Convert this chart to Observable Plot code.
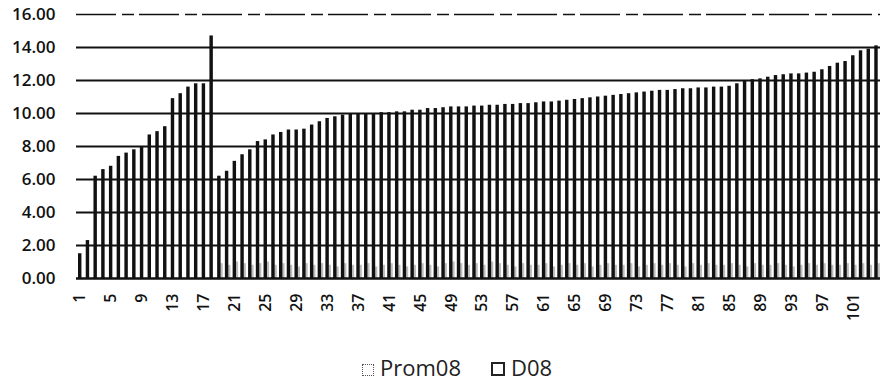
<!DOCTYPE html>
<html>
<head>
<meta charset="utf-8">
<script src="https://cdn.jsdelivr.net/npm/d3@7"></script>
<script src="https://cdn.jsdelivr.net/npm/@observablehq/plot@0.6"></script>
<style>
  html, body { margin: 0; padding: 0; background: #fff; }
  #wrap { position: relative; width: 880px; height: 383px; font-family: "Open Sans", sans-serif; }
  #legend { position: absolute; left: 362px; top: 355px; font-size: 22px; color: #222; white-space: nowrap; line-height: 24px; }
  #legend span.item { display: inline-block; margin-right: 30px; }
  #legend span.sw { display: inline-block; width: 10px; height: 10px; margin-right: 6px; vertical-align: 0px; }
</style>
</head>
<body>
<div id="wrap">
  <div id="chart"></div>
  <div id="legend"></div>
</div>
<script>
const seriesNames = ["Prom08", "D08"];
const categories = d3.range(1, 105);
const prom08 = [
  1.5, 2.3, 6.2, 6.6, 6.8, 7.4, 7.6, 7.8, 8.0, 8.7, 8.9, 9.2, 10.9, 11.2, 11.6, 11.8, 11.8, 14.7,
  6.2, 6.5, 7.1, 7.5, 7.8, 8.3, 8.4, 8.7, 8.85, 9.0, 9.0, 9.05, 9.3, 9.5, 9.7, 9.8, 9.9, 9.95,
  10.0, 10.0, 10.0, 10.05, 10.05, 10.1, 10.1, 10.2, 10.2, 10.3, 10.3, 10.35, 10.4, 10.4, 10.4, 10.45,
  10.45, 10.5, 10.5, 10.55, 10.55, 10.6, 10.6, 10.65, 10.7, 10.7, 10.75, 10.8, 10.85, 10.9, 10.95, 11.0,
  11.05, 11.1, 11.15, 11.2, 11.25, 11.3, 11.35, 11.4, 11.4, 11.45, 11.5, 11.5, 11.55, 11.55, 11.6, 11.6,
  11.65, 11.8, 12.0, 12.05, 12.1, 12.2, 12.3, 12.35, 12.4, 12.4, 12.45, 12.5, 12.65, 12.85, 13.05, 13.15,
  13.5, 13.8, 13.9, 14.1
];
const d08 = [
  0, 0, 0, 0, 0, 0, 0, 0, 0, 0, 0, 0, 0, 0, 0, 0, 0, 0,
  0.9, 0.8, 1.0, 0.9, 0.8, 0.9, 1.0, 0.8, 0.9, 0.8, 0.7, 0.9, 0.8, 0.9, 0.8, 0.7, 0.9, 0.8,
  0.8, 0.9, 0.7, 0.8, 0.9, 0.8, 0.7, 0.8, 0.9, 0.8, 0.7, 0.9, 1.0, 0.9, 0.8, 0.9,
  0.8, 1.0, 0.9, 0.8, 0.7, 0.9, 0.8, 0.8, 0.9, 0.7, 0.8, 0.9, 0.8, 0.9, 0.7, 0.8,
  0.9, 0.8, 0.8, 0.9, 0.7, 0.8, 0.9, 0.8, 0.9, 0.8, 0.7, 0.9, 0.8, 0.9, 0.8, 0.8,
  0.9, 0.8, 0.7, 0.9, 0.8, 0.8, 0.9, 0.8, 0.7, 0.8, 0.9, 0.8, 0.9, 0.8, 0.8, 0.9,
  0.8, 0.9, 0.8, 0.9
];
const yTicks = [0, 2, 4, 6, 8, 10, 12, 14, 16];
const xTickLabels = d3.range(1, 105, 4);

const rows = categories.map((c, i) => ({cat: c, prom: prom08[i], d: d08[i]}));

const chart = Plot.plot({
  width: 880,
  height: 340,
  marginLeft: 76,
  marginRight: 0,
  marginTop: 14,
  marginBottom: 62,
  style: {fontFamily: "Open Sans, sans-serif", color: "#111", background: "#fff", fontWeight: 600},
  x: {type: "band", domain: categories, padding: 0, label: null},
  y: {domain: [0, 16], label: null},
  marks: [
    Plot.ruleY(yTicks.filter(v => v > 0 && v < 16), {stroke: "#111", strokeWidth: 1.8}),
    Plot.ruleY([16], {stroke: "#111", strokeWidth: 1.6, strokeDasharray: "40,6,12,5"}),
    Plot.barY(rows, {x: "cat", y: "d", fill: "#bdbdbd", insetLeft: 5.2, insetRight: 0.2}),
    Plot.barY(rows, {x: "cat", y: "prom", fill: "#111", insetLeft: 2.0, insetRight: 2.3}),
    Plot.ruleY([0], {stroke: "#111", strokeWidth: 2.5}),
    Plot.axisY({ticks: yTicks, tickSize: 0, tickPadding: 21, tickFormat: d3.format(".2f"), fontSize: 17, label: null}),
    Plot.axisX({ticks: xTickLabels, tickSize: 0, tickPadding: 15, tickRotate: -90, fontSize: 16, label: null})
  ]
});
document.getElementById("chart").appendChild(chart);

const legend = document.getElementById("legend");
const swatchStyles = [
  "border: 1.5px dotted #555; background: #fff;",
  "border: 2px solid #222; background: #fff;"
];
seriesNames.forEach((name, i) => {
  const item = document.createElement("span");
  item.className = "item";
  const sw = document.createElement("span");
  sw.className = "sw";
  sw.style.cssText = swatchStyles[i];
  item.appendChild(sw);
  item.appendChild(document.createTextNode(name));
  legend.appendChild(item);
});
</script>
</body>
</html>
